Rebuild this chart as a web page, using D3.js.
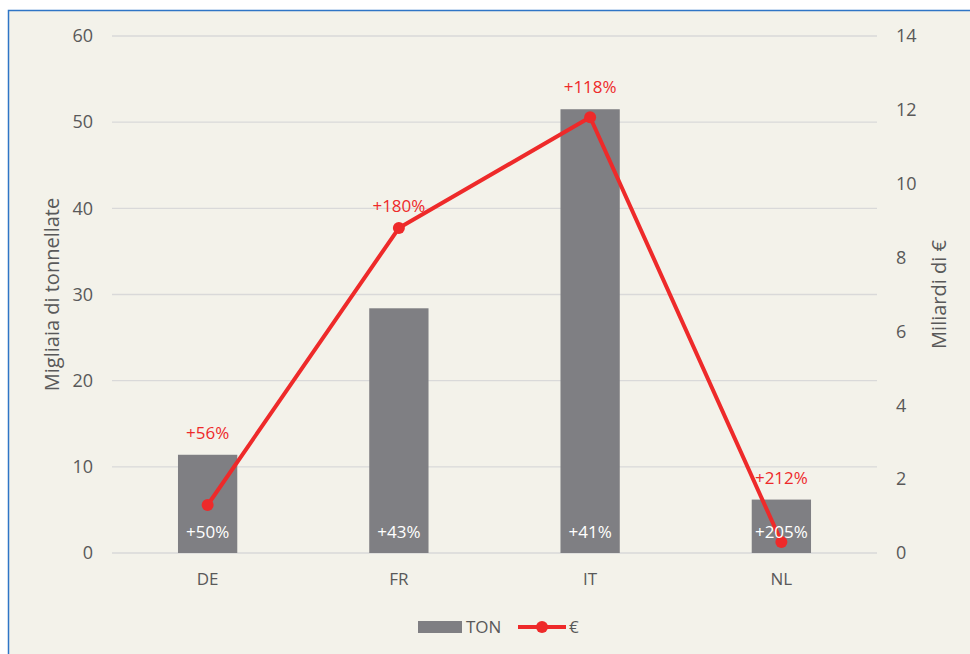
<!DOCTYPE html>
<html><head><meta charset="utf-8">
<script src="https://cdn.jsdelivr.net/npm/d3@7"></script>
<style>
html,body{margin:0;padding:0;background:#fff;}
svg{display:block;font-family:"Open Sans",sans-serif;}
</style></head>
<body>
<svg id="chart" width="970" height="654"></svg>
<script>
const categories = ["DE","FR","IT","NL"];
const tonValues = [11.4, 28.4, 51.5, 6.2];
const euroValues = [1.3, 8.8, 11.8, 0.3];
const tonLabels = ["+50%","+43%","+41%","+205%"];
const euroLabels = ["+56%","+180%","+118%","+212%"];
const leftTicks = [0,10,20,30,40,50,60];
const rightTicks = [0,2,4,6,8,10,12,14];

const W = 970, H = 654;
const m = {left:112, right:93, top:36, bottom:101};
const svg = d3.select("#chart");
const textCol = "#595959", red = "#EE2A2A", gray = "#7F7F83";

svg.append("rect").attr("x",8.5).attr("y",10.5).attr("width",W).attr("height",H)
  .attr("fill","#F3F2EA").attr("stroke","#2E75C6").attr("stroke-width",1.5);

const x = d3.scaleBand().domain(categories).range([m.left, W-m.right]).paddingInner(0.69).paddingOuter(0.345);
const yL = d3.scaleLinear().domain([0,60]).range([H-m.bottom, m.top]);
const yR = d3.scaleLinear().domain([0,14]).range([H-m.bottom, m.top]);

// grid
svg.append("g").selectAll("line").data(leftTicks).join("line")
  .attr("x1",m.left).attr("x2",W-m.right)
  .attr("y1",d=>yL(d)).attr("y2",d=>yL(d))
  .attr("stroke","#D9D9D9").attr("stroke-width",1.3);

// left axis
const gL = svg.append("g").attr("transform",`translate(${m.left},0)`)
  .call(d3.axisLeft(yL).tickValues(leftTicks).tickSize(0).tickPadding(19));
gL.select(".domain").remove();
gL.selectAll("text").attr("fill",textCol).style("font-size","18px").style("font-family","'Open Sans',sans-serif");

// right axis
const gR = svg.append("g").attr("transform",`translate(${W-m.right},0)`)
  .call(d3.axisRight(yR).tickValues(rightTicks).tickSize(0).tickPadding(19));
gR.select(".domain").remove();
gR.selectAll("text").attr("fill",textCol).style("font-size","18px").style("font-family","'Open Sans',sans-serif");

// bottom axis
const gB = svg.append("g").attr("transform",`translate(0,${H-m.bottom})`)
  .call(d3.axisBottom(x).tickSize(0).tickPadding(20));
gB.select(".domain").remove();
gB.selectAll("text").attr("fill",textCol).style("font-size","17px").style("font-family","'Open Sans',sans-serif");

// axis titles
svg.append("text").attr("transform",`translate(59,${(yL(0)+yL(60))/2}) rotate(-90)`)
  .attr("text-anchor","middle").attr("fill",textCol).style("font-size","20px").text("Migliaia di tonnellate");
svg.append("text").attr("transform",`translate(946,${(yL(0)+yL(60))/2}) rotate(-90)`)
  .attr("text-anchor","middle").attr("fill",textCol).style("font-size","20px").text("Miliardi di €");

// bars
svg.append("g").selectAll("rect").data(categories).join("rect")
  .attr("x",d=>x(d)).attr("width",x.bandwidth())
  .attr("y",(d,i)=>yL(tonValues[i])).attr("height",(d,i)=>yL(0)-yL(tonValues[i]))
  .attr("fill",gray);

// line
const line = d3.line().x((d,i)=>x(categories[i])+x.bandwidth()/2).y(d=>yR(d));
svg.append("path").datum(euroValues).attr("d",line).attr("fill","none")
  .attr("stroke",red).attr("stroke-width",4).attr("stroke-linejoin","round");
svg.append("g").selectAll("circle").data(euroValues).join("circle")
  .attr("cx",(d,i)=>x(categories[i])+x.bandwidth()/2).attr("cy",d=>yR(d)).attr("r",6).attr("fill",red);

// bar labels
svg.append("g").selectAll("text").data(tonLabels).join("text")
  .attr("x",(d,i)=>x(categories[i])+x.bandwidth()/2).attr("y",yL(0)-15)
  .attr("text-anchor","middle").attr("fill","#fff").style("font-size","17px").text(d=>d);

// euro labels
svg.append("g").selectAll("text").data(euroLabels).join("text")
  .attr("x",(d,i)=>x(categories[i])+x.bandwidth()/2)
  .attr("y",(d,i)=>Math.min(yL(tonValues[i]), yR(euroValues[i])) - 16)
  .attr("text-anchor","middle").attr("fill",red).style("font-size","17px").text(d=>d);

// legend
const lg = svg.append("g");
lg.append("rect").attr("x",418).attr("y",621).attr("width",44).attr("height",12).attr("fill",gray);
lg.append("text").attr("x",466).attr("y",633).attr("fill",textCol).style("font-size","17px").text("TON");
lg.append("line").attr("x1",518).attr("x2",566).attr("y1",627).attr("y2",627).attr("stroke",red).attr("stroke-width",4);
lg.append("circle").attr("cx",542).attr("cy",627).attr("r",6).attr("fill",red);
lg.append("text").attr("x",569).attr("y",633).attr("fill",textCol).style("font-size","17px").text("€");
</script>
</body></html>
